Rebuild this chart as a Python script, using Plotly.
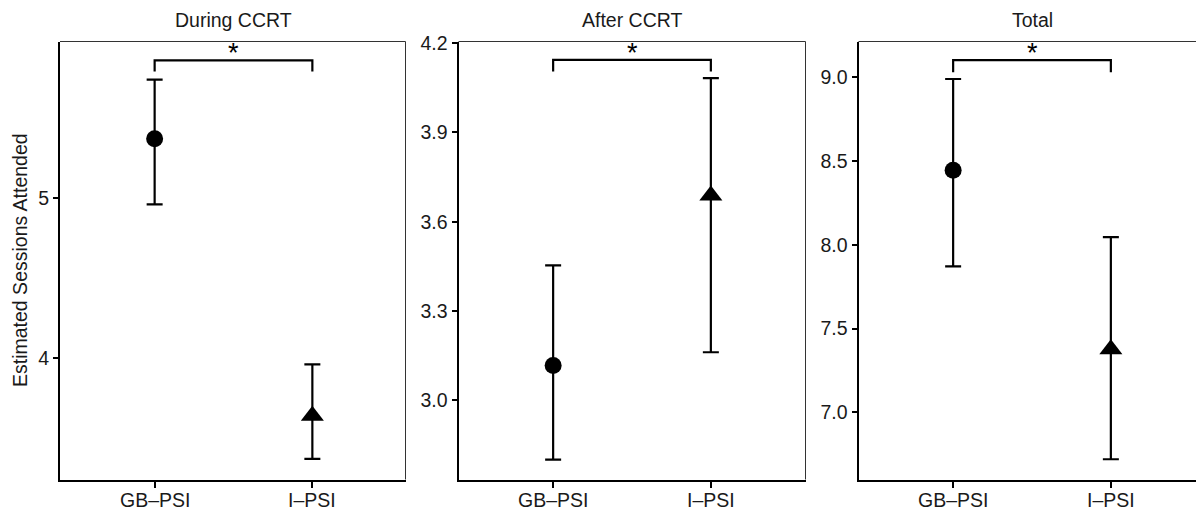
import plotly.graph_objects as go

W, H = 1196, 510

groups = ["GB\u2013PSI", "I\u2013PSI"]
panel_titles = ["During CCRT", "After CCRT", "Total"]
y_title = "Estimated Sessions Attended"

# estimates and 95% CI per panel (GB-PSI, I-PSI)
during_mean = [5.37, 3.64]
during_low = [4.96, 3.37]
during_high = [5.74, 3.96]

after_mean = [3.116, 3.688]
after_low = [2.80, 3.161]
after_high = [3.453, 4.083]

total_mean = [8.446, 7.376]
total_low = [7.872, 6.72]
total_high = [8.99, 8.046]

# significance brackets (top, lower end of the legs)
bracket_top = [5.86, 4.144, 9.103]
bracket_leg = [5.79, 4.105, 9.03]
sig_label = ["*", "*", "*"]

y_ticks = [[4, 5], [3.0, 3.3, 3.6, 3.9, 4.2], [7.0, 7.5, 8.0, 8.5, 9.0]]
y_ranges = [[3.241, 5.978], [2.733, 4.206], [6.599, 9.214]]

means = [during_mean, after_mean, total_mean]
lows = [during_low, after_low, total_low]
highs = [during_high, after_high, total_high]

# layout in pixels
px_left = [60, 458.5, 858.5]
px_right = [405.5, 805.5, 1196]
full_width = 347.0
top_px, bottom_px = 41.5, 479.5

FONT = "Liberation Sans, Arial, Helvetica, sans-serif"
fs = 19.5
TXT = "#1a1a1a"

fig = go.Figure()
layout = dict(
    template="none",
    width=W, height=H, margin=dict(l=0, r=0, t=0, b=0, pad=0, autoexpand=False),
    paper_bgcolor="white", plot_bgcolor="white", showlegend=False,
    font=dict(family=FONT, size=fs, color=TXT),
)
shapes = []
annotations = []
symbols = ["circle", "triangle-up"]
sizes = [17, 20]

for i in range(3):
    xa = "x" if i == 0 else f"x{i+1}"
    ya = "y" if i == 0 else f"y{i+1}"
    xkey = "xaxis" if i == 0 else f"xaxis{i+1}"
    ykey = "yaxis" if i == 0 else f"yaxis{i+1}"
    x0 = px_left[i] / W
    x1 = px_right[i] / W
    xr_hi = -0.6 + 2.2 * (px_right[i] - px_left[i]) / full_width
    layout[xkey] = dict(
        domain=[x0, x1], anchor=ya, type="category", automargin=False,
        range=[-0.6, xr_hi], showline=True, linewidth=2, linecolor="black",
        ticks="outside", ticklen=6, tickwidth=2, tickcolor="black",
        showticklabels=False,
        showgrid=False, zeroline=False, fixedrange=True,
    )
    layout[ykey] = dict(
        domain=[1 - bottom_px / H, 1 - top_px / H], anchor=xa, automargin=False,
        range=y_ranges[i], tickvals=y_ticks[i],
        tickformat=".1f" if i > 0 else "d",
        showline=True, linewidth=2, linecolor="black",
        ticks="outside", ticklen=5, tickwidth=2, tickcolor="black",
        showgrid=False, zeroline=False, tickfont=dict(size=fs, color=TXT),
        fixedrange=True,
    )
    # top border
    shapes.append(dict(type="line", xref=f"{xa} domain", yref=f"{ya} domain",
                       x0=0, x1=1, y0=1, y1=1, line=dict(color="#333", width=1)))
    if i < 2:
        shapes.append(dict(type="line", xref=f"{xa} domain", yref=f"{ya} domain",
                           x0=1, x1=1, y0=0, y1=1, line=dict(color="#333", width=1)))

    for g in range(2):
        m = means[i][g]
        fig.add_trace(go.Scatter(
            x=[groups[g]], y=[m], mode="markers", xaxis=xa, yaxis=ya,
            marker=dict(symbol=symbols[g], size=sizes[g], color="black",
                        line=dict(width=0)),
            error_y=dict(type="data", symmetric=False,
                         array=[highs[i][g] - m], arrayminus=[m - lows[i][g]],
                         thickness=2.2, width=8, color="black"),
            hoverinfo="skip",
        ))
        # category tick label, placed just below the axis
        annotations.append(dict(
            x=groups[g], y=1 - 500 / H, xref=xa, yref="paper", text=groups[g],
            showarrow=False, xanchor="center", yanchor="middle",
            font=dict(size=fs, color=TXT, family=FONT),
        ))
    # bracket
    fig.add_trace(go.Scatter(
        x=[groups[0], groups[0], groups[1], groups[1]],
        y=[bracket_leg[i], bracket_top[i], bracket_top[i], bracket_leg[i]],
        mode="lines", xaxis=xa, yaxis=ya, line=dict(color="black", width=2.2),
        hoverinfo="skip",
    ))
    annotations.append(dict(
        x=0.5, y=bracket_top[i], xref=xa, yref=ya, text=sig_label[i],
        showarrow=False, yanchor="bottom", yshift=-10,
        font=dict(size=27, color="black", family=FONT),
    ))
    # panel title
    cx = (px_left[i] + px_left[i] + full_width) / 2 / W
    annotations.append(dict(
        x=cx, y=1 - 20 / H, xref="paper", yref="paper", text=panel_titles[i],
        showarrow=False, xanchor="center", yanchor="middle",
        font=dict(size=fs, color=TXT, family=FONT),
    ))

annotations.append(dict(
    x=20 / W, y=1 - 260 / H, xref="paper", yref="paper", text=y_title,
    showarrow=False, textangle=-90, xanchor="center", yanchor="middle",
    font=dict(size=fs, color=TXT, family=FONT),
))

layout["shapes"] = shapes
layout["annotations"] = annotations
fig.update_layout(**layout)
fig.write_html(
    "out.html",
    config={"displayModeBar": False, "staticPlot": True},
    post_script="document.body.style.margin='0px';document.body.style.overflow='hidden';",
)
